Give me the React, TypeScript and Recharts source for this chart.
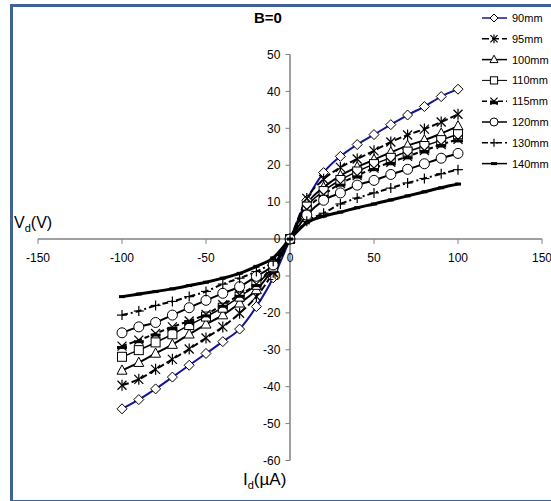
import React from 'react'
import { LineChart, Line, XAxis, YAxis, ReferenceLine, Legend } from 'recharts'

// drain current (uA) at which each curve was sampled
const currents = [-100, -90, -80, -70, -60, -50, -40, -30, -20, -10, 0, 10, 20, 30, 40, 50, 60, 70, 80, 90, 100]

// drain voltage (V) per spacing
const v90 = [-46.0, -43.5, -40.6, -37.4, -34.2, -31.0, -27.8, -24.4, -18.3, -10.5, 0, 10.5, 18.0, 22.4, 25.6, 28.3, 31.0, 33.6, 35.9, 38.6, 40.6]
const v95 = [-39.6, -38.0, -35.3, -32.6, -29.8, -26.8, -23.8, -20.1, -15.6, -9.0, 0, 11.0, 16.2, 19.4, 21.7, 23.9, 26.3, 28.2, 29.8, 31.7, 33.8]
const v100 = [-35.6, -33.5, -31.0, -28.6, -25.8, -23.1, -20.6, -17.4, -13.8, -8.0, 0, 9.5, 14.0, 17.2, 19.5, 21.5, 23.5, 25.3, 26.8, 28.6, 30.6]
const v110 = [-31.9, -30.1, -28.0, -25.8, -23.3, -21.0, -18.6, -15.6, -12.4, -7.5, 0, 8.8, 13.0, 16.0, 18.3, 20.3, 22.0, 23.7, 25.2, 26.8, 28.4]
const v115 = [-29.0, -27.4, -25.6, -23.8, -22.2, -20.4, -17.8, -15.1, -12.2, -7.0, 0, 8.0, 12.0, 15.0, 17.2, 19.2, 20.8, 22.4, 24.0, 25.6, 27.0]
const v120 = [-25.4, -23.8, -22.6, -20.6, -18.6, -16.6, -14.7, -12.9, -10.1, -7.0, 0, 6.5, 10.5, 12.5, 14.6, 15.9, 17.5, 18.9, 20.4, 21.9, 23.2]
const v130 = [-20.6, -19.5, -18.0, -16.9, -15.6, -14.2, -12.2, -10.6, -8.8, -6.0, 0, 4.8, 7.0, 9.5, 11.1, 12.5, 13.8, 15.2, 16.4, 17.7, 18.8]
const v140 = [-15.6, -14.9, -14.2, -13.5, -12.6, -11.7, -10.6, -9.3, -7.4, -5.1, 0, 4.4, 6.2, 7.3, 8.5, 9.5, 10.6, 11.7, 12.8, 13.9, 14.9]

const xTicks = [-150, -100, -50, 0, 50, 100, 150]
const yTicks = [-60, -50, -40, -30, -20, -10, 0, 10, 20, 30, 40, 50]

type MarkerKind = 'diamond' | 'star' | 'triangle' | 'square' | 'xbar' | 'circle' | 'plus' | 'dash'

const series: { key: string; name: string; values: number[]; color: string; width: number; dash?: string; marker: MarkerKind }[] = [
  { key: 's90', name: '90mm', values: v90, color: '#141496', width: 2, marker: 'diamond' },
  { key: 's95', name: '95mm', values: v95, color: '#000', width: 2, dash: '7 3', marker: 'star' },
  { key: 's100', name: '100mm', values: v100, color: '#000', width: 2, marker: 'triangle' },
  { key: 's110', name: '110mm', values: v110, color: '#000', width: 1.5, marker: 'square' },
  { key: 's115', name: '115mm', values: v115, color: '#000', width: 2, dash: '5 3', marker: 'xbar' },
  { key: 's120', name: '120mm', values: v120, color: '#000', width: 2, marker: 'circle' },
  { key: 's130', name: '130mm', values: v130, color: '#000', width: 2, dash: '6 3 2 3', marker: 'plus' },
  { key: 's140', name: '140mm', values: v140, color: '#000', width: 3, marker: 'dash' },
]

const data = currents.map((x, i) => {
  const row: Record<string, number> = { x }
  series.forEach(s => { row[s.key] = s.values[i] })
  return row
})

function Marker({ kind, cx, cy, k = 1 }: { kind: MarkerKind; cx: number; cy: number; k?: number }) {
  const st = { stroke: '#000', strokeWidth: 1, fill: '#fff' }
  const d = 5 * k
  switch (kind) {
    case 'diamond':
      return <polygon points={`${cx},${cy - d} ${cx + d},${cy} ${cx},${cy + d} ${cx - d},${cy}`} {...st} />
    case 'triangle':
      return <polygon points={`${cx},${cy - d * 1.1} ${cx + d},${cy + d * 0.75} ${cx - d},${cy + d * 0.75}`} {...st} />
    case 'square':
      return <rect x={cx - d * 0.9} y={cy - d * 0.9} width={d * 1.8} height={d * 1.8} {...st} />
    case 'circle':
      return <circle cx={cx} cy={cy} r={d} {...st} />
    case 'star':
      return (
        <g stroke="#000" strokeWidth={1.2}>
          <line x1={cx - d * 0.9} y1={cy - d * 0.9} x2={cx + d * 0.9} y2={cy + d * 0.9} />
          <line x1={cx - d * 0.9} y1={cy + d * 0.9} x2={cx + d * 0.9} y2={cy - d * 0.9} />
          <line x1={cx} y1={cy - d * 1.1} x2={cx} y2={cy + d * 1.1} />
        </g>
      )
    case 'xbar':
      return (
        <g stroke="#000" strokeWidth={1.2}>
          <line x1={cx - d * 0.9} y1={cy - d * 0.9} x2={cx + d * 0.9} y2={cy + d * 0.9} />
          <line x1={cx - d * 0.9} y1={cy + d * 0.9} x2={cx + d * 0.9} y2={cy - d * 0.9} />
          <rect x={cx - d} y={cy} width={d * 2} height={3} fill="#000" stroke="none" />
        </g>
      )
    case 'plus':
      return (
        <g stroke="#000" strokeWidth={1.2}>
          <line x1={cx - d} y1={cy} x2={cx + d} y2={cy} />
          <line x1={cx} y1={cy - d} x2={cx} y2={cy + d} />
        </g>
      )
    default:
      return <rect x={cx - 3} y={cy - 1.5} width={6} height={3} fill="#000" />
  }
}

function LegendBox() {
  return (
    <svg width={75} height={170} style={{ overflow: 'visible' }}>
      {series.map((s, i) => {
        const y = 12 + i * 20.8
        return (
          <g key={s.key}>
            <line x1={4} y1={y} x2={29} y2={y} stroke={s.color} strokeWidth={s.width > 1.5 ? 1.5 : 1} strokeDasharray={s.dash} />
            <Marker kind={s.marker} cx={16} cy={y} k={0.8} />
            <text x={34} y={y + 4} fontSize={11} fontFamily="Liberation Sans, Arial, sans-serif" fill="#000">{s.name}</text>
          </g>
        )
      })}
    </svg>
  )
}

const font = 'Liberation Sans, Arial, sans-serif'

export default function App() {
  return (
    <div style={{ position: 'absolute', left: 0, top: 0, width: 551, height: 501, background: '#fff', fontFamily: font }}>
      <div style={{ position: 'absolute', left: 10, top: 4, width: 560, height: 493, border: '3px solid #3f6396', borderRight: 'none', borderBottomWidth: 1 }} />
      <LineChart width={551} height={501} data={data} margin={{ top: 54.5, right: 9, bottom: 40.5, left: 38 }}>
        <XAxis type="number" dataKey="x" domain={[-150, 150]} hide />
        <YAxis type="number" domain={[-60, 50]} hide />
        <ReferenceLine x={0} stroke="#808080" strokeWidth={1.5} />
        <ReferenceLine y={0} stroke="#808080" strokeWidth={1.5} />
        {xTicks.map(t => (
          <ReferenceLine
            key={`xt${t}`}
            segment={[{ x: t, y: 0 }, { x: t, y: -1.3 }]}
            stroke="#808080"
            label={{ value: String(t), position: 'bottom', offset: 10, fontSize: 12, fill: '#000', fontFamily: font }}
          />
        ))}
        {yTicks.map(t => (
          <ReferenceLine
            key={`yt${t}`}
            segment={[{ x: -2.7, y: t }, { x: 0, y: t }]}
            stroke="#808080"
            label={{ value: String(t), position: 'left', offset: 5, fontSize: 12, fill: '#000', fontFamily: font }}
          />
        ))}
        {series.map(s => (
          <Line
            key={s.key}
            dataKey={s.key}
            name={s.name}
            type="monotone"
            stroke={s.color}
            strokeWidth={s.width}
            strokeDasharray={s.dash}
            isAnimationActive={false}
            dot={(p: any) => (
              <g key={`${s.key}-${p.index}`}>
                <Marker kind={s.marker} cx={p.cx} cy={p.cy} />
              </g>
            )}
            activeDot={false}
          />
        ))}
        <Legend
          layout="vertical"
          align="center"
          verticalAlign="middle"
          wrapperStyle={{ left: 478, top: 6, width: 75, height: 170 }}
          content={() => <LegendBox />}
        />
      </LineChart>
      <div style={{ position: 'absolute', left: 0, top: 9, width: 536, textAlign: 'center', fontWeight: 'bold', fontSize: 15 }}>B=0</div>
      <div style={{ position: 'absolute', left: 14, top: 214, fontSize: 16 }}>
        V<sub style={{ fontSize: 11 }}>d</sub>(V)
      </div>
      <div style={{ position: 'absolute', left: 243, top: 470, fontSize: 17 }}>
        I<sub style={{ fontSize: 11 }}>d</sub>(µA)
      </div>
    </div>
  )
}
